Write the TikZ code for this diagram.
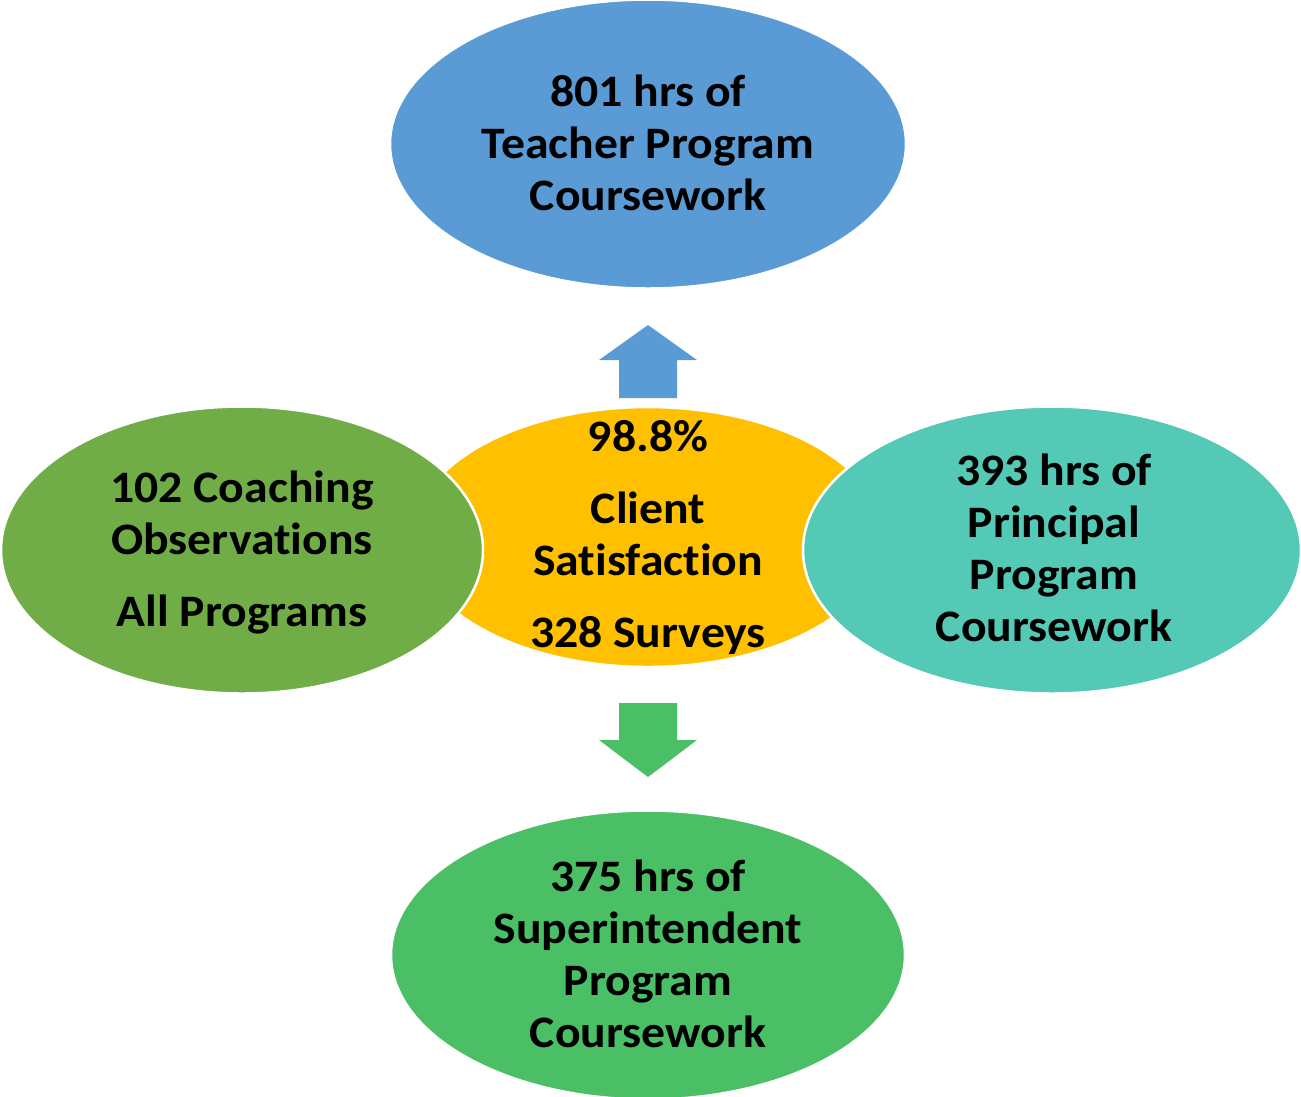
\documentclass[tikz,border=0pt]{standalone}
\usepackage{fontspec}
\setmainfont{Carlito}[FakeStretch=1.06, Ligatures=NoCommon, Contextuals=NoAlternate]
\usetikzlibrary{shapes.geometric}
\definecolor{cblue}{HTML}{5B9BD5}
\definecolor{cgreenL}{HTML}{70AD47}
\definecolor{cteal}{HTML}{53C9B6}
\definecolor{cgold}{HTML}{FFC000}
\definecolor{cgreenB}{HTML}{4BBF65}
\tikzset{
  blob/.style={ellipse, inner sep=0pt, outer sep=0pt, draw=white, line width=2.5pt},
  lbl/.style={align=center, inner sep=0pt, font=\bfseries\fontsize{45}{52}\selectfont, text=black}
}
\begin{document}
\begin{tikzpicture}[x=1pt,y=-1pt]
\useasboundingbox (0,0) rectangle (1301,1096);
% centre
\node[blob, fill=cgold, minimum width=470pt, minimum height=260pt] (centre) at (648,537) {};
% left and right
\node[blob, fill=cgreenL, minimum width=482pt, minimum height=287pt] (left) at (242,550) {};
\node[blob, fill=cteal, minimum width=498pt, minimum height=287pt] (right) at (1052,550) {};
% top and bottom
\node[blob, fill=cblue, minimum width=516pt, minimum height=289pt] (top) at (648,144) {};
\node[blob, fill=cgreenB, minimum width=514pt, minimum height=289pt] (bottom) at (648,955) {};
% arrows
\fill[cblue] (648,325) -- (697,360) -- (677,360) -- (677,398) -- (619,398) -- (619,360) -- (599,360) -- cycle;
\fill[cgreenB] (648,777) -- (697,740) -- (677,740) -- (677,703) -- (619,703) -- (619,740) -- (599,740) -- cycle;
% labels
\node[lbl] (toptext) at (648,143) {801 hrs of\\Teacher Program\\Coursework};
\node[lbl] (centretext) at (648,537.5) {98.8\%\\[20pt]Client\\Satisfact\kern0pt ion\\[20pt]328 Surveys};
\node[lbl] (lefttext) at (242,553) {102 Coaching\\Observat\kern0pt ions\\[20pt]All Programs};
\node[lbl] (righttext) at (1054,547.5) {393 hrs of\\Principal\\Program\\Coursework};
\node[lbl] (bottomtext) at (648,954) {375 hrs of\\Superintendent\\Program\\Coursework};
\end{tikzpicture}
\end{document}
